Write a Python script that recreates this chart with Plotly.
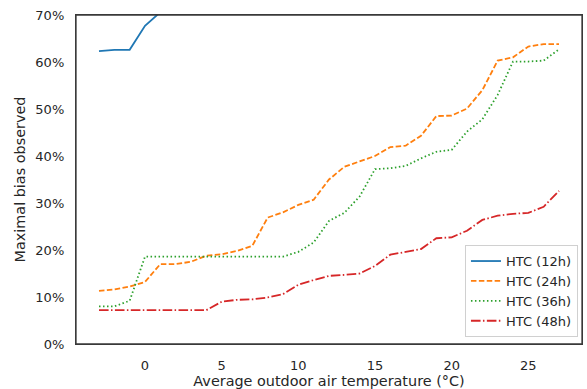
import plotly.graph_objects as go

temps = list(range(-3, 28))

htc_12h_x = [-3, -2, -1, 0, 1]
htc_12h = [62.3, 62.6, 62.6, 67.7, 70.6]

htc_24h = [11.3, 11.6, 12.2, 13.2, 17.0, 17.0, 17.5, 18.8, 19.1, 19.8, 20.9, 26.9,
           28.0, 29.6, 30.7, 35.0, 37.7, 38.9, 40.0, 41.9, 42.2, 44.3, 48.5, 48.6,
           50.1, 54.0, 60.3, 61.0, 63.3, 63.8, 63.8]

htc_36h = [8.0, 8.0, 9.2, 18.6, 18.6, 18.6, 18.6, 18.6, 18.6, 18.6, 18.6, 18.6,
           18.6, 19.6, 21.6, 26.2, 27.9, 31.4, 37.2, 37.4, 37.9, 39.5, 40.9, 41.3,
           45.2, 47.8, 53.0, 60.1, 60.1, 60.3, 62.7]

htc_48h = [7.2, 7.2, 7.2, 7.2, 7.2, 7.2, 7.2, 7.2, 9.0, 9.4, 9.5, 9.9, 10.6, 12.6,
           13.6, 14.5, 14.7, 15.0, 16.6, 19.0, 19.6, 20.2, 22.5, 22.7, 24.1, 26.4,
           27.3, 27.7, 27.9, 29.2, 32.6]

names = ["HTC (12h)", "HTC (24h)", "HTC (36h)", "HTC (48h)"]
colors = ["#1f77b4", "#ff7f0e", "#2ca02c", "#d62728"]
dashes = ["solid", "5.5px,2.4px", "1.5px,2.5px", "9.6px,2.4px,1.5px,2.4px"]

x_ticks = [0, 5, 10, 15, 20, 25]
y_ticks = [0, 10, 20, 30, 40, 50, 60, 70]
y_tick_labels = ["0%", "10%", "20%", "30%", "40%", "50%", "60%", "70%"]

fig = go.Figure()
series = [(htc_12h_x, htc_12h), (temps, htc_24h), (temps, htc_36h), (temps, htc_48h)]
for (xs, ys), n, c, d in zip(series, names, colors, dashes):
    fig.add_trace(go.Scatter(x=xs, y=ys, mode="lines", name=n,
                             line=dict(color=c, width=1.8, dash=d)))

font = "DejaVu Sans, Arial, sans-serif"
fig.update_layout(
    width=587, height=389,
    margin=dict(l=76, r=5, t=15, b=45, autoexpand=False),
    paper_bgcolor="white", plot_bgcolor="white",
    font=dict(family=font, size=13, color="#262626"),
    showlegend=True,
    legend=dict(x=0.992, y=0.021, xanchor="right", yanchor="bottom",
                bgcolor="rgba(255,255,255,0.85)", bordercolor="#d0d0d0", borderwidth=1,
                font=dict(size=13, color="#262626"), itemwidth=30,
                tracegroupgap=0),
    shapes=[dict(type="rect", xref="paper", yref="paper", x0=0, y0=0, x1=1, y1=1,
                 line=dict(color="#3a3a3a", width=1.3), fillcolor="rgba(0,0,0,0)",
                 layer="above")],
)
fig.update_xaxes(
    range=[-4.5, 28.5], tickvals=x_ticks, showgrid=False, zeroline=False,
    showline=True, mirror=True, linecolor="#3a3a3a", linewidth=1.3,
    ticks="outside", ticklen=9, tickcolor="rgba(0,0,0,0)",
    tickfont=dict(size=13),
    title=dict(text="Average outdoor air temperature (°C)", font=dict(size=14.4), standoff=3),
)
fig.update_yaxes(
    range=[0, 70], tickvals=y_ticks, ticktext=y_tick_labels, showgrid=False, zeroline=False,
    showline=True, mirror=True, linecolor="#3a3a3a", linewidth=1.3,
    ticks="outside", ticklen=8, tickcolor="rgba(0,0,0,0)",
    tickfont=dict(size=13),
    title=dict(text="Maximal bias observed", font=dict(size=14.4), standoff=6),
)

fig.write_html("out.html", config={"displayModeBar": False},
               post_script="document.body.style.margin='0';")
